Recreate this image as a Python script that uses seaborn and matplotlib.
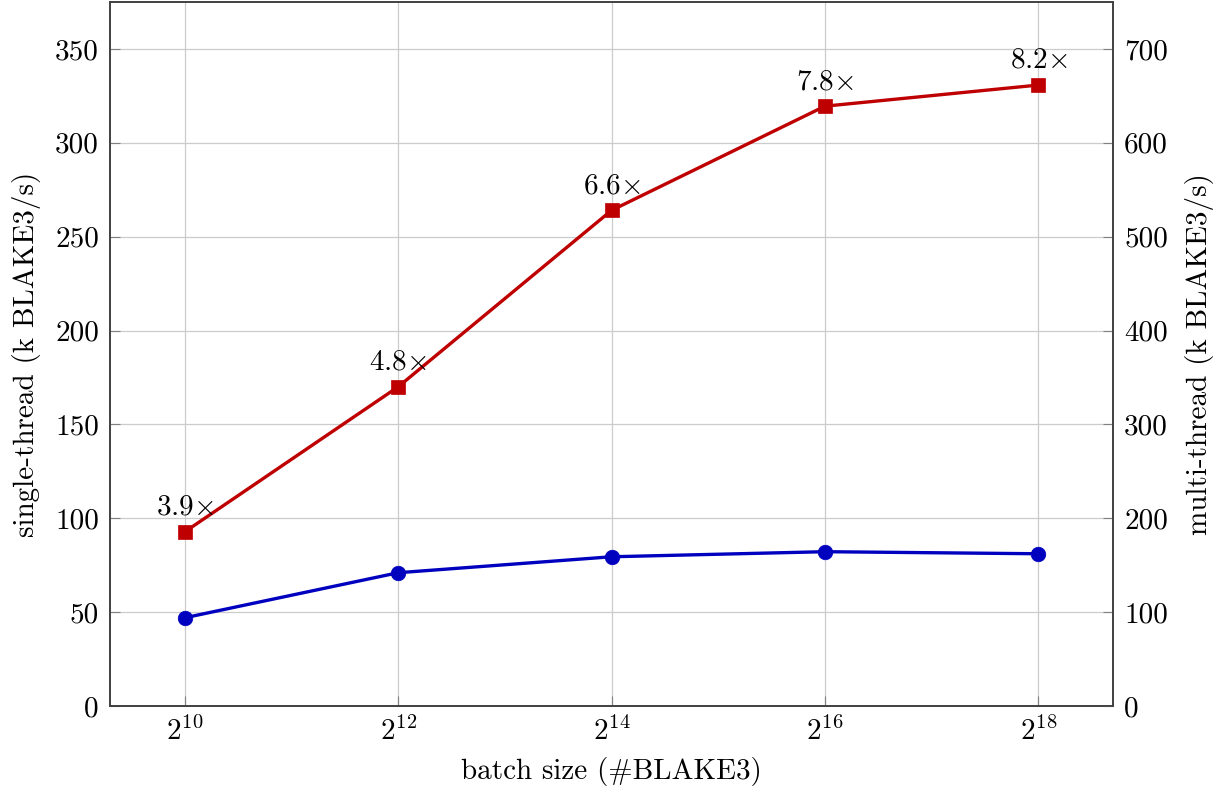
import matplotlib
matplotlib.use("Agg")
import matplotlib.pyplot as plt
import seaborn as sns
import pandas as pd

# data
batch_log2 = [10, 12, 14, 16, 18]
single_thread = [47.0, 71.0, 79.5, 82.2, 81.1]
multi_thread = [185.5, 340.0, 528.0, 639.0, 661.5]
speedup_labels = ["3.9", "4.8", "6.6", "7.8", "8.2"]

left_ticks = [0, 50, 100, 150, 200, 250, 300, 350]
right_ticks = [0, 100, 200, 300, 400, 500, 600, 700]

df = pd.DataFrame({"x": batch_log2, "single": single_thread, "multi": multi_thread})

sns.set_style("whitegrid")
plt.rcParams["font.family"] = ["cmr10"]
plt.rcParams["mathtext.fontset"] = "cm"
plt.rcParams["axes.formatter.use_mathtext"] = True
plt.rcParams["axes.unicode_minus"] = False
plt.rcParams["text.color"] = "black"
plt.rcParams["axes.labelcolor"] = "black"
plt.rcParams["xtick.labelcolor"] = "black"
plt.rcParams["ytick.labelcolor"] = "black"

fs = 21
blue = "#0000BF"
red = "#BF0000"

fig = plt.figure(figsize=(12.25, 7.9), dpi=100)
ax = fig.add_axes([0.0898, 0.1063, 0.8188, 0.8912])
ax2 = ax.twinx()

sns.lineplot(data=df, x="x", y="single", ax=ax, color=blue, linewidth=2.4,
             marker="o", markersize=10.5, markeredgewidth=0.5, markeredgecolor=blue)
sns.lineplot(data=df, x="x", y="multi", ax=ax2, color=red, linewidth=2.4,
             marker="s", markersize=10.5, markeredgewidth=0.5, markeredgecolor=red)

for xv, yv, lab in zip(batch_log2, multi_thread, speedup_labels):
    ax2.annotate(lab + r"$\times$", (xv, yv), xytext=(0, 8), textcoords="offset points",
                 ha="center", va="bottom", fontsize=fs, color="black")

ax.set_xlim(9.3, 18.7)
ax.set_ylim(0, 375)
ax2.set_ylim(0, 750)

ax.set_xticks(batch_log2)
ax.set_xticklabels([r"$2^{%d}$" % v for v in batch_log2], fontsize=fs)
ax.set_yticks(left_ticks)
ax.set_yticklabels([str(v) for v in left_ticks], fontsize=fs)
ax2.set_yticks(right_ticks)
ax2.set_yticklabels([str(v) for v in right_ticks], fontsize=fs)

ax.set_xlabel("batch size (#BLAKE3)", fontsize=fs, labelpad=8, color="black")
ax.set_ylabel("single-thread (k BLAKE3/s)", fontsize=fs, labelpad=10, color="black")
ax2.set_ylabel("multi-thread (k BLAKE3/s)", fontsize=fs, labelpad=12, color="black")

ax.grid(True, color="#cccccc", linewidth=0.9)
ax2.grid(False)
for a in (ax, ax2):
    for s in a.spines.values():
        s.set_color("#404040")
        s.set_linewidth(1.2)
        s.set_visible(True)
ax.tick_params(axis="both", direction="in", length=7, color="#808080", pad=8,
               labelcolor="black", left=True, bottom=True, right=False, top=False)
ax2.tick_params(axis="y", direction="in", length=7, color="#808080", pad=8,
                labelcolor="black", right=True)
ax2.patch.set_visible(False)

fig.savefig("out.png", dpi=100)
